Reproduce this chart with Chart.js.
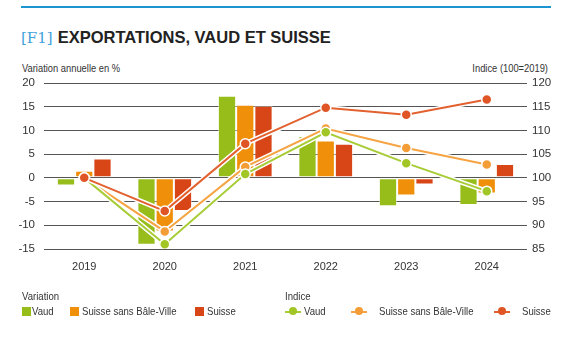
<!DOCTYPE html>
<html>
<head>
<meta charset="utf-8">
<script src="https://cdn.jsdelivr.net/npm/chart.js@4/dist/chart.umd.min.js"></script>
<style>
  body { margin: 0; background: #fff; font-family: "Liberation Sans", Arial, sans-serif; color: #333; }
  #wrap { position: relative; width: 580px; height: 360px; overflow: hidden; }
  #topline { position: absolute; left: 21px; top: 6px; width: 530px; height: 2px; background: #1b95d2; }
  #titre { position: absolute; left: 21px; top: 28px; white-space: nowrap; }
  #titre .num { font-family: "DejaVu Serif", "Liberation Serif", serif; color: #3fa3dc; font-size: 15px; }
  #titre .txt { font-family: "Liberation Sans", Arial, sans-serif; font-weight: bold; font-size: 16.5px; color: #222; margin-left: 5px; }
  .axtitle { position: absolute; top: 62px; font-size: 11px; color: #333; white-space: nowrap; }
  .nar { display: inline-block; transform: scaleX(0.85); }
  canvas { position: absolute; left: 0; top: 0; }
  .lg { position: absolute; font-size: 11px; color: #333; white-space: nowrap; line-height: 12px; transform: scaleX(0.87); transform-origin: left center; }
  .sq { position: absolute; width: 9px; height: 9px; }
  .mk { position: absolute; width: 16px; height: 9px; }
  .mk i { position: absolute; left: 0; top: 4px; width: 16px; height: 1.5px; }
  .mk b { position: absolute; left: 4px; top: 0; width: 8px; height: 8px; border-radius: 50%; }
</style>
</head>
<body>
<div id="wrap">
  <div id="topline"></div>
  <div id="titre"><span class="num">[F1]</span><span class="txt">EXPORTATIONS, VAUD ET SUISSE</span></div>
  <div class="axtitle" style="left:22px"><span class="nar" style="transform-origin:left center">Variation annuelle en %</span></div>
  <div class="axtitle" style="right:32px"><span class="nar" style="transform-origin:right center">Indice (100=2019)</span></div>
  <canvas id="graf" width="580" height="360"></canvas>
  <div id="legende"></div>
</div>
<script>
const annees = ['2019', '2020', '2021', '2022', '2023', '2024'];

// variation annuelle en %
const varVaud = [-1.6, -14.1, 17.3, 8.8, -6.0, -5.7];
const varSansBS = [1.5, -11.3, 15.4, 7.9, -3.7, -3.3];
const varSuisse = [4.1, -7.0, 15.2, 7.2, -1.4, 2.9];

// indice 100 = 2019
const idxVaud = [100, 86.0, 100.8, 109.6, 103.1, 97.2];
const idxSansBS = [100, 88.7, 102.3, 110.4, 106.3, 102.8];
const idxSuisse = [100, 93.0, 107.2, 114.8, 113.3, 116.5];

const ticksGauche = [-15, -10, -5, 0, 5, 10, 15, 20];
const ticksDroite = [85, 90, 95, 100, 105, 110, 115, 120];

const nomsVariation = ['Vaud', 'Suisse sans Bâle-Ville', 'Suisse'];
const nomsIndice = ['Vaud', 'Suisse sans Bâle-Ville', 'Suisse'];

const couleursBarres = ['#97bd1b', '#f0900a', '#d84516'];
const couleursLignes = ['#a7cc35', '#f6a443', '#e3602f'];
const couleursPoints = ['#a2c626', '#f49d36', '#e05525'];

const police = '"Liberation Sans", Arial, sans-serif';

const datasets = [];
[varVaud, varSansBS, varSuisse].forEach((serie, i) => {
    datasets.push({
        type: 'bar',
        label: nomsVariation[i],
        data: serie,
        yAxisID: 'y',
        backgroundColor: couleursBarres[i],
        borderColor: 'rgba(255,255,255,0.5)',
        borderWidth: 1,
        borderSkipped: false,
        categoryPercentage: 0.68,
        barPercentage: 1,
        order: 20
    });
});

// ordre : Suisse dessus, puis Vaud, puis Suisse sans BS
const ordres = [2, 4, 0];
[idxVaud, idxSansBS, idxSuisse].forEach((serie, i) => {
    datasets.push({
        type: 'line',
        label: 'halo',
        data: serie,
        yAxisID: 'y1',
        borderColor: '#ffffff',
        borderWidth: 5,
        pointRadius: 0,
        tension: 0,
        order: ordres[i] + 1
    });
    datasets.push({
        type: 'line',
        label: nomsIndice[i],
        data: serie,
        yAxisID: 'y1',
        borderColor: couleursLignes[i],
        borderWidth: 2,
        pointRadius: 5,
        pointBackgroundColor: couleursPoints[i],
        pointBorderColor: '#ffffff',
        pointBorderWidth: 1.5,
        tension: 0,
        order: ordres[i]
    });
});

const chart = new Chart(document.getElementById('graf'), {
    data: { labels: annees, datasets: datasets },
    options: {
        responsive: false,
        animation: false,
        events: [],
        layout: { padding: { top: 83, left: 0, right: 0, bottom: 81 } },
        plugins: { legend: { display: false }, tooltip: { enabled: false } },
        scales: {
            x: {
                offset: true,
                grid: { display: false },
                border: { display: false },
                ticks: { color: '#333', font: { family: police, size: 11 }, padding: 3 },
                afterFit: s => { s.height = 30; }
            },
            y: {
                position: 'left',
                min: -15, max: 20,
                afterBuildTicks: s => { s.ticks = ticksGauche.map(v => ({ value: v })); },
                grid: { color: '#555', lineWidth: 1, drawTicks: false },
                border: { display: false },
                ticks: { color: '#333', font: { family: police, size: 11.5 }, padding: 9 },
                afterFit: s => { s.width = 44; }
            },
            y1: {
                position: 'right',
                min: 85, max: 120,
                afterBuildTicks: s => { s.ticks = ticksDroite.map(v => ({ value: v })); },
                grid: { drawOnChartArea: false, drawTicks: false },
                border: { display: false },
                ticks: { color: '#333', font: { family: police, size: 11.5 }, padding: 5 },
                afterFit: s => { s.width = 53; }
            }
        }
    }
});

// légende en HTML
const legende = document.getElementById('legende');
const ajoute = html => legende.insertAdjacentHTML('beforeend', html);

ajoute(`<div class="lg" style="left:22px;top:290px">Variation</div>`);
ajoute(`<div class="lg" style="left:285px;top:290px">Indice</div>`);

const posBarres = [[22, 32], [70, 82], [195, 207]];
nomsVariation.forEach((nom, i) => {
    const [xs, xt] = posBarres[i];
    ajoute(`<div class="sq" style="left:${xs}px;top:307px;background:${couleursBarres[i]}"></div>`);
    ajoute(`<div class="lg" style="left:${xt}px;top:305px">${nom}</div>`);
});

const posLignes = [[285, 304], [351, 379], [494, 522]];
nomsIndice.forEach((nom, i) => {
    const [xs, xt] = posLignes[i];
    ajoute(`<div class="mk" style="left:${xs}px;top:307px"><i style="background:${couleursLignes[i]}"></i><b style="background:${couleursPoints[i]}"></b></div>`);
    ajoute(`<div class="lg" style="left:${xt}px;top:305px">${nom}</div>`);
});
</script>
</body>
</html>
